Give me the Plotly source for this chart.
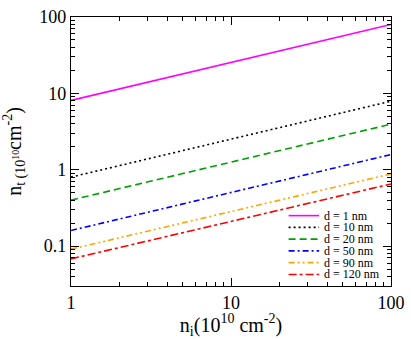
import plotly.graph_objects as go

# n_i range (10^10 cm^-2)
n_i = [1, 100]

# n_t at the ends of each line
labels = ["d = 1 nm", "d = 10 nm", "d = 20 nm", "d = 50 nm", "d = 90 nm", "d = 120 nm"]
n_t_d1 = [8.1, 80]
n_t_d10 = [0.8, 7.9]
n_t_d20 = [0.4, 3.95]
n_t_d50 = [0.16, 1.58]
n_t_d90 = [0.091, 0.88]
n_t_d120 = [0.068, 0.65]

x_ticks = [1, 10, 100]
y_ticks = [0.1, 1, 10, 100]

series = [n_t_d1, n_t_d10, n_t_d20, n_t_d50, n_t_d90, n_t_d120]
colors = ["#ff00ff", "#000000", "#00a000", "#0000ff", "#ffa500", "#ff0000"]
dashes = ["solid", "2px,3px", "7px,4px", "6px,3px,2px,3px",
          "6px,3px,2px,3px,2px,3px", "8px,3px,3px,3px"]

SERIF = "Liberation Serif"

fig = go.Figure()
for name, ys, col, dash in zip(labels, series, colors, dashes):
    fig.add_trace(go.Scatter(x=n_i, y=ys, mode="lines", name=name, showlegend=False,
                             line=dict(color=col, width=1.6, dash=dash)))

# invisible trace so the top/right axes get drawn
fig.add_trace(go.Scatter(x=n_i, y=[n_t_d1[0], n_t_d1[0]], xaxis="x2", yaxis="y2",
                         mode="lines", line=dict(width=0), opacity=0,
                         showlegend=False, hoverinfo="skip"))

x_minor = [m * 10 ** e for e in range(0, 2) for m in range(2, 10)]
y_minor = [m * 10 ** e for e in range(-2, 2) for m in range(2, 10) if m * 10 ** e >= 0.03]

X_RANGE = [-0.0001, 2.0001]
Y_RANGE = [-1.523, 2.0001]

tick_common = dict(
    type="log",
    showgrid=False,
    zeroline=False,
    ticks="inside",
    ticklen=8,
    tickwidth=1,
    tickcolor="#000000",
)
minor_common = dict(ticks="inside", ticklen=4, tickwidth=1, tickcolor="#000000", showgrid=False)

fig.update_layout(
    xaxis=dict(
        **tick_common,
        range=X_RANGE,
        showline=True, linecolor="#000000", linewidth=1.2,
        tickvals=x_ticks,
        ticktext=[str(v) for v in x_ticks],
        ticklabeloverflow="allow",
        tickfont=dict(family=SERIF, size=18, color="#000000"),
        minor=dict(**minor_common, tickvals=x_minor),
        title=dict(text="n<sub>i</sub>(10<sup>10</sup> cm<sup>-2</sup>)",
                   font=dict(family=SERIF, size=20, color="#000000"), standoff=2),
    ),
    yaxis=dict(
        **tick_common,
        range=Y_RANGE,
        showline=True, linecolor="#000000", linewidth=1.2,
        tickvals=y_ticks,
        ticktext=["0.1", "1", "10", "100"],
        ticklabeloverflow="allow",
        tickfont=dict(family=SERIF, size=18, color="#000000"),
        minor=dict(**minor_common, tickvals=y_minor),
        title=dict(text="n<sub>t (10<sup>10</sup></sub>cm<sup>-2</sup>)",
                   font=dict(family=SERIF, size=20, color="#000000"), standoff=12),
    ),
    xaxis2=dict(
        **tick_common,
        range=X_RANGE,
        overlaying="x", side="top", anchor="y",
        showline=True, linecolor="#000000", linewidth=1.2,
        tickvals=x_ticks, showticklabels=False,
        minor=dict(**minor_common, tickvals=x_minor),
    ),
    yaxis2=dict(
        **tick_common,
        range=Y_RANGE,
        overlaying="y", side="right", anchor="x",
        showline=True, linecolor="#000000", linewidth=1.2,
        tickvals=y_ticks, showticklabels=False,
        minor=dict(**minor_common, tickvals=y_minor),
    ),
    width=411,
    height=339,
    margin=dict(l=71, r=15, t=7, b=53),
    plot_bgcolor="#ffffff",
    paper_bgcolor="#ffffff",
    showlegend=False,
)

# legend drawn by hand inside the lower right corner (tight spacing like the original)
plot_l, plot_r, plot_t, plot_b = 71, 396, 7, 286
for i, (name, col, dash) in enumerate(zip(labels, colors, dashes)):
    ypx = 213 + 12.2 * i
    yp = (plot_b - ypx) / (plot_b - plot_t)
    x0 = (292 - plot_l) / (plot_r - plot_l)
    x1 = (323 - plot_l) / (plot_r - plot_l)
    xt = (327 - plot_l) / (plot_r - plot_l)
    fig.add_shape(type="line", xref="paper", yref="paper", x0=x0, x1=x1, y0=yp, y1=yp,
                  line=dict(color=col, width=1.6, dash=dash))
    fig.add_annotation(xref="paper", yref="paper", x=xt, y=yp, text=name,
                       showarrow=False, xanchor="left", yanchor="middle",
                       height=12, borderpad=0,
                       font=dict(family=SERIF, size=12, color="#000000"))

fig.write_html("out.html", config={"displayModeBar": False},
               post_script="document.body.style.margin='0';")
